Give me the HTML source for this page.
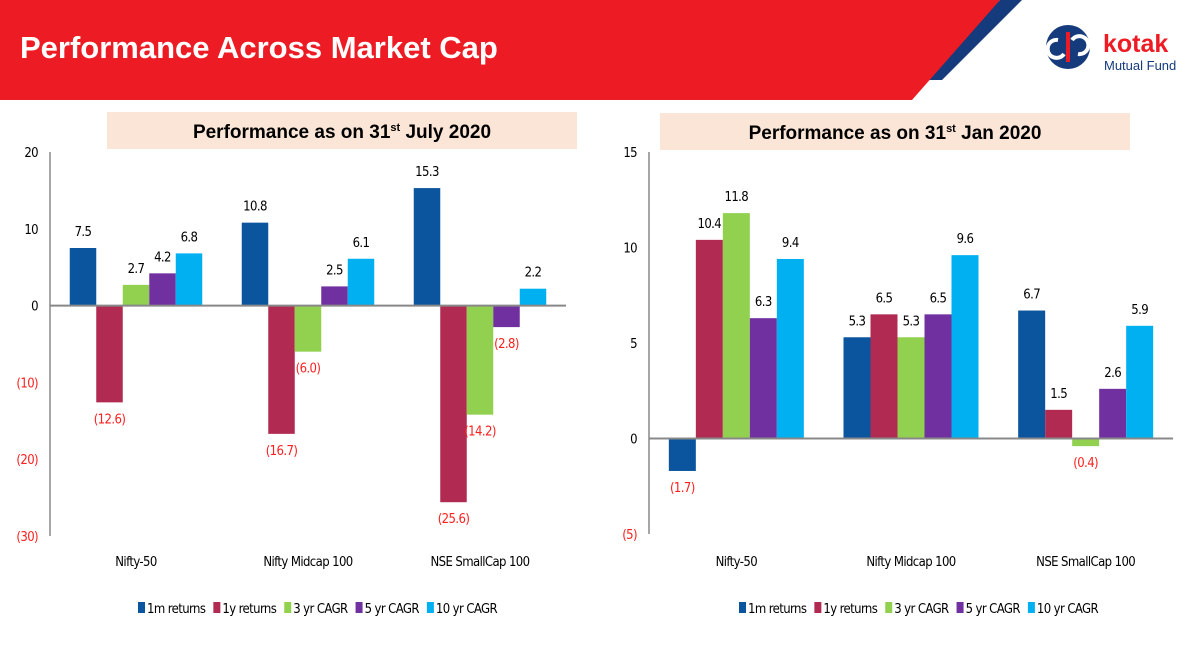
<!DOCTYPE html>
<html><head><meta charset="utf-8"><style>
body{margin:0;width:1200px;height:647px;overflow:hidden;background:#fff;font-family:"Liberation Sans Narrow","DejaVu Sans Condensed","Liberation Sans",sans-serif;}
svg{position:absolute;left:0;top:0}
svg text.n{font-family:"Liberation Sans Narrow","DejaVu Sans Condensed","Liberation Sans",sans-serif;letter-spacing:-0.6px}
</style></head><body>
<svg id="s" width="1200" height="647">
<polygon points="1000,0 1022,0 942,80 920,80" fill="#153b7c"/>
<polygon points="0,0 1000,0 912,100 0,100" fill="#ed1c24"/>
<text x="20" y="58" fill="#fff" font-family="Liberation Sans" font-weight="bold" font-size="31">Performance Across Market Cap</text>
<g>
<circle cx="1068" cy="47" r="22" fill="#153b7c"/>
<path d="M1058 40 a9 9 0 1 0 6 14 M1078 54 a9 9 0 1 0 -6 -14" stroke="#fff" stroke-width="4" fill="none"/>
<rect x="1066" y="32" width="4" height="30" fill="#ed1c24"/>
<text x="1103" y="52" fill="#ed1c24" font-family="Liberation Sans" font-weight="bold" font-size="25">kotak</text>
<text x="1104" y="70" fill="#153b7c" font-family="Liberation Sans" font-size="13">Mutual Fund</text>
</g>
<rect x="107" y="112" width="470" height="37" fill="#fbe5d6"/>
<text x="342" y="138" text-anchor="middle" font-family="Liberation Sans" font-weight="bold" font-size="19">Performance as on 31<tspan font-size="11" dy="-7">st</tspan><tspan dy="7"> July 2020</tspan></text>
<rect x="660" y="113" width="470" height="37" fill="#fbe5d6"/>
<text x="895" y="139" text-anchor="middle" font-family="Liberation Sans" font-weight="bold" font-size="19">Performance as on 31<tspan font-size="11" dy="-7">st</tspan><tspan dy="7"> Jan 2020</tspan></text>
</svg>
<script>
const categories=["Nifty-50","Nifty Midcap 100","NSE SmallCap 100"];
const seriesNames=["1m returns","1y returns","3 yr CAGR","5 yr CAGR","10 yr CAGR"];
const colors=["#0b559f","#b02a52","#92d050","#7030a0","#00b0f0"];
const julyValues=[[7.5,-12.6,2.7,4.2,6.8],[10.8,-16.7,-6.0,2.5,6.1],[15.3,-25.6,-14.2,-2.8,2.2]];
const janValues=[[-1.7,10.4,11.8,6.3,9.4],[5.3,6.5,5.3,6.5,9.6],[6.7,1.5,-0.4,2.6,5.9]];
const julyTicks=[20,10,0,-10,-20,-30];
const janTicks=[15,10,5,0,-5];
const S=document.getElementById('s');const NS="http://www.w3.org/2000/svg";
const RED='#ff1f1f';
function mk(t,a,txt){const e=document.createElementNS(NS,t);for(const k in a)e.setAttribute(k,a[k]);if(txt!=null)e.textContent=txt;S.appendChild(e);return e;}
function fmt(v){return v<0?"("+Math.abs(v)+")":String(v);}
function fmtV(v){return v<0?"("+Math.abs(v).toFixed(1)+")":v.toFixed(1);}
function chart(p,vals,ticks){
 const yy=v=>p.y0+(p.max-v)*(p.y1-p.y0)/(p.max-p.min);
 let ax=mk('line',{x1:p.x0,x2:p.x0,y1:p.y0,y2:p.y1,stroke:'#888','stroke-width':1.5});
 
 ticks.forEach(t=>{const e=mk('text',{class:'n',x:p.x0-12,y:yy(t)+5,'text-anchor':'end','font-size':13,fill:t<0?RED:'#000'},fmt(t));
  });
 const cw=(p.x1-p.x0)/categories.length,bw=p.bw,gw=bw*5;
 categories.forEach((c,i)=>{const gx=p.x0+i*cw+(cw-gw)/2;
  vals[i].forEach((v,j)=>{const top=yy(Math.max(v,0)),bot=yy(Math.min(v,0));
   const r=mk('rect',{x:gx+j*bw,y:top,width:bw,height:bot-top,fill:colors[j]});
   
   const l=mk('text',{class:'n',x:gx+j*bw+bw/2,y:v>=0?top-12:bot+21,'text-anchor':'middle','font-size':13,fill:v<0?RED:'#000'},fmtV(v));
   });
  const cl=mk('text',{class:'n',x:p.x0+i*cw+cw/2,y:566,'text-anchor':'middle','font-size':13},c);
  });
 const z=mk('line',{x1:p.x0,x2:p.x1,y1:yy(0),y2:yy(0),stroke:'#888','stroke-width':2});
 
 let lx=p.lx;seriesNames.forEach((n,j)=>{const r=mk('rect',{x:lx,y:602,width:7,height:11,fill:colors[j]});
  
  const t=mk('text',{class:'n',x:lx+9,y:613,'font-size':13},n);
  
  lx+=9+t.getComputedTextLength()+8;});
}
chart({id:'july',x0:50,x1:566,y0:152,y1:536,max:20,min:-30,bw:26.5,lx:138},julyValues,julyTicks);
chart({id:'jan',x0:649,x1:1173,y0:152,y1:534,max:15,min:-5,bw:27,lx:739},janValues,janTicks);
</script>
</body></html>
